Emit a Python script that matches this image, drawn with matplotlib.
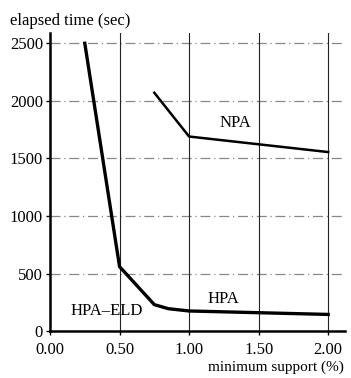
import numpy as np
import matplotlib.pyplot as plt

plt.rcParams['font.family'] = ['Liberation Serif', 'DejaVu Serif']

# --- Data ---
support_eld = [0.25, 0.50, 0.75, 0.85, 1.00, 1.50, 2.00]
time_eld = [2500, 560, 230, 195, 175, 160, 145]

support_npa = [0.75, 1.00, 2.00]
time_npa = [2070, 1690, 1555]

x_ticks = [0.0, 0.5, 1.0, 1.5, 2.0]
x_labels = ['0.00', '0.50', '1.00', '1.50', '2.00']
y_ticks = [0, 500, 1000, 1500, 2000, 2500]

# --- Plot ---
fig = plt.figure(figsize=(3.51, 3.78), dpi=100)
ax = fig.add_axes([0.1425, 0.124, 0.84, 0.789])

ax.set_xlim(0, 2.12)
ax.set_ylim(0, 2590)

# grid
for y in y_ticks[1:]:
    ax.axhline(y, color='#888888', lw=0.9, ls=(0, (8, 3, 1, 3)), zorder=1)
for x in x_ticks[1:]:
    ax.axvline(x, color='#222222', lw=0.8, zorder=1)

ax.plot(support_eld, time_eld, color='black', lw=2.4, zorder=3)
ax.plot(support_npa, time_npa, color='black', lw=1.8, zorder=3)

ax.text(1.33, 1810, 'NPA', fontsize=12, ha='center', va='center')
ax.text(1.25, 275, 'HPA', fontsize=12, ha='center', va='center')
ax.text(0.41, 175, 'HPA\u2013ELD', fontsize=12, ha='center', va='center')

ax.set_xticks(x_ticks)
ax.set_xticklabels(x_labels)
ax.set_yticks(y_ticks)
ax.tick_params(axis='both', labelsize=12, length=3, width=1, direction='out')
ax.tick_params(axis='x', pad=5)
ax.tick_params(axis='y', pad=2)

for s in ['top', 'right']:
    ax.spines[s].set_visible(False)
ax.spines['left'].set_linewidth(1.8)
ax.spines['bottom'].set_linewidth(1.8)

fig.text(0.028, 0.945, 'elapsed time (sec)', fontsize=12, ha='left', va='center')
fig.text(0.98, 0.028, 'minimum support (%)', fontsize=11, ha='right', va='center')

fig.savefig('out.png', dpi=100)
